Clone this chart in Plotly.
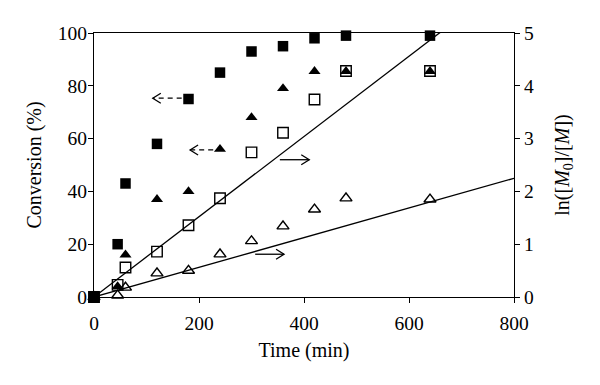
import plotly.graph_objects as go

# ---- data ----
time_conv = [0, 45, 60, 120, 180, 240, 300, 360, 420, 480, 640]
conv_sq = [0, 20, 43, 58, 75, 85, 93, 95, 98, 99, 99]          # filled squares, Conversion (%)
conv_tri = [0, 4, 16, 37, 40, 56, 68, 79, 85.5, 85.5, 85.5]     # filled triangles, Conversion (%)
ln_sq = [0, 0.23, 0.56, 0.86, 1.36, 1.87, 2.74, 3.11, 3.74, 4.28, 4.28]   # open squares, ln([M0]/[M])
ln_tri = [0, 0.03, 0.18, 0.45, 0.5, 0.81, 1.06, 1.34, 1.66, 1.87, 1.85]   # open triangles
fit_t = [0, 800]
fit_slope_sq = 0.0076
fit_slope_tri = 0.00281
x_ticks = [0, 200, 400, 600, 800]
y_ticks = [0, 20, 40, 60, 80, 100]
y2_ticks = [0, 1, 2, 3, 4, 5]
# arrows: (tail_t, head_t, level, axis, dashed)
arrows = [
    (167, 112, 75.3, "y", True),
    (227, 183, 55.7, "y", True),
    (354, 410, 2.6, "y2", False),
    (307, 362, 0.81, "y2", False),
]

FONT = "Liberation Serif"
TICK_SIZE = 19.5
TITLE_SIZE = 20
fig = go.Figure()

for slope in (fit_slope_sq, fit_slope_tri):
    fig.add_trace(go.Scatter(x=fit_t, y=[slope * t for t in fit_t], yaxis="y2",
                             mode="lines", line=dict(color="black", width=1.3),
                             showlegend=False, hoverinfo="skip"))

fig.add_trace(go.Scatter(x=time_conv, y=ln_sq, yaxis="y2", mode="markers", cliponaxis=False,
                         marker=dict(symbol="square-open", size=10.5, color="black", line=dict(width=1.4)),
                         showlegend=False))
fig.add_trace(go.Scatter(x=time_conv, y=ln_tri, yaxis="y2", mode="markers", cliponaxis=False,
                         marker=dict(symbol="triangle-up-open", size=10.5, color="black", line=dict(width=1.4)),
                         showlegend=False))
fig.add_trace(go.Scatter(x=time_conv, y=conv_sq, mode="markers", cliponaxis=False,
                         marker=dict(symbol="square", size=10.5, color="black"), showlegend=False))
fig.add_trace(go.Scatter(x=time_conv, y=conv_tri, mode="markers", cliponaxis=False,
                         marker=dict(symbol="triangle-up", size=10.5, color="black"), showlegend=False))

# px -> data unit conversions for chevron heads
PX_T = 800 / 420
PX_Y = {"y": 100 / 264, "y2": 5 / 264}
shapes = []
for tail, head, lvl, ax, dashed in arrows:
    shapes.append(dict(type="line", xref="x", yref=ax, x0=tail, x1=head, y0=lvl, y1=lvl,
                       line=dict(color="black", width=1.3, dash="5px,4px" if dashed else "solid")))
    d = 1 if head > tail else -1
    dx = 8 * PX_T * d
    dy = 5 * PX_Y[ax]
    shapes.append(dict(type="path", xref="x", yref=ax,
                       path=f"M {head - dx},{lvl + dy} L {head},{lvl} L {head - dx},{lvl - dy}",
                       line=dict(color="black", width=1.3)))

axis_common = dict(showline=True, linecolor="black", linewidth=1.3, ticks="outside",
                   ticklen=5, tickcolor="black", tickwidth=1.3, showgrid=False, zeroline=False,
                   automargin=False,
                   tickfont=dict(family=FONT, size=TICK_SIZE, color="black"))

# the page body adds an 8px offset, so the figure is 592x377
fig.update_layout(
    width=592, height=377, paper_bgcolor="white", plot_bgcolor="white",
    margin=dict(l=86, r=86, t=25, b=88),
    font=dict(family=FONT, size=TICK_SIZE, color="black"),
    xaxis=dict(range=[0, 800], tickvals=x_ticks, mirror=True, ticklabelstandoff=3,
               title=dict(text="Time (min)", font=dict(family=FONT, size=TITLE_SIZE), standoff=10),
               **axis_common),
    yaxis=dict(range=[0, 100], tickvals=y_ticks, ticklabelstandoff=-3,
               title=dict(text="Conversion (%)", font=dict(family=FONT, size=TITLE_SIZE), standoff=10),
               **axis_common),
    yaxis2=dict(range=[0, 5], tickvals=y2_ticks, overlaying="y", side="right",
                title=dict(text="ln([<i>M</i><sub>0</sub>]/[<i>M</i>])", font=dict(family=FONT, size=TITLE_SIZE),
                           standoff=21),
                **axis_common),
    shapes=shapes,
)

fig.write_html("out.html")
